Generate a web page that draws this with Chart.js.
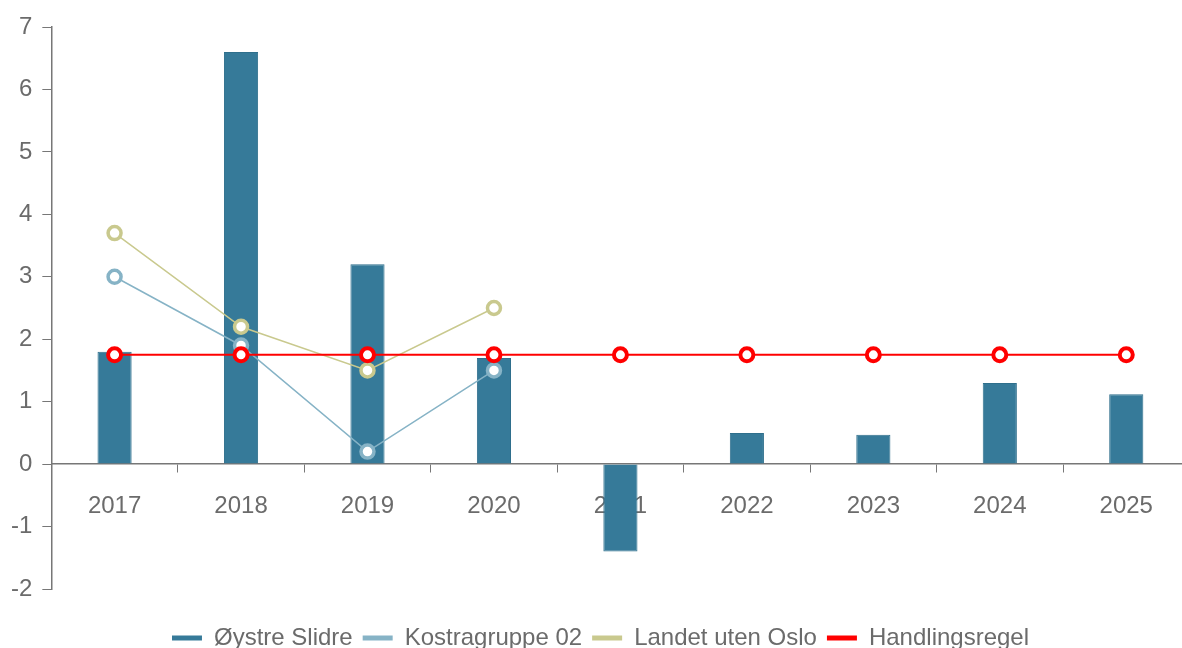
<!DOCTYPE html>
<html>
<head>
<meta charset="utf-8">
<script src="https://cdn.jsdelivr.net/npm/chart.js@4/dist/chart.umd.min.js"></script>
<style>
  html, body { margin: 0; padding: 0; background: #fff; overflow: hidden; }
  #clip { width: 1182px; height: 648px; overflow: hidden; }
  #wrap { width: 1200px; height: 648px; }
  canvas { display: block; }
</style>
</head>
<body>
<div id="clip"><div id="wrap"><canvas id="chart" width="1200" height="648"></canvas></div></div>
<script>
const years = ["2017","2018","2019","2020","2021","2022","2023","2024","2025"];
const oystreSlidre = [1.8, 6.6, 3.2, 1.7, -1.4, 0.5, 0.47, 1.3, 1.12];
const kostragruppe02 = [3.0, 1.9, 0.2, 1.5, null, null, null, null, null];
const landetUtenOslo = [3.7, 2.2, 1.5, 2.5, null, null, null, null, null];
const handlingsregel = [1.75, 1.75, 1.75, 1.75, 1.75, 1.75, 1.75, 1.75, 1.75];

const grey = "#6b6b6b";
Chart.defaults.font.family = "'Liberation Sans', Arial, sans-serif";
Chart.defaults.color = grey;

const ctx = document.getElementById("chart").getContext("2d");
const myChart = new Chart(ctx, {
    type: "bar",
    data: {
        labels: years,
        datasets: [{
            label: "Øystre Slidre",
            data: oystreSlidre,
            backgroundColor: "#367a99",
            borderColor: "#2f6f8c",
            borderWidth: 1,
            barPercentage: 0.27,
            categoryPercentage: 1,
            order: 4
        },
        {
            type: "line",
            label: "Kostragruppe 02",
            data: kostragruppe02,
            borderColor: "#86b3c6",
            backgroundColor: "#ffffff",
            borderWidth: 1.5,
            pointRadius: 6.5,
            pointBorderWidth: 3.5,
            order: 2
        },
        {
            type: "line",
            label: "Landet uten Oslo",
            data: landetUtenOslo,
            borderColor: "#c9c98e",
            backgroundColor: "#ffffff",
            borderWidth: 1.5,
            pointRadius: 6.5,
            pointBorderWidth: 3.5,
            order: 1
        },
        {
            type: "line",
            label: "Handlingsregel",
            data: handlingsregel,
            borderColor: "#ff0000",
            backgroundColor: "#ffffff",
            borderWidth: 2,
            pointRadius: 6.5,
            pointBorderWidth: 4,
            order: 0
        }]
    },
    options: {
        responsive: false,
        animation: false,
        // canvas is wider than the page: the original plot is cut at the right edge
        layout: { padding: { top: 27, left: 1, right: 0, bottom: -12 } },
        scales: {
            x: {
                position: { y: 0 },
                grid: { drawOnChartArea: false, tickLength: 8, color: "#777", offset: true },
                border: { color: "#777", width: 1.5 },
                ticks: { padding: 20, font: { size: 24 } }
            },
            // empty band keeping the legend away from the plot
            xGap: {
                type: "category",
                position: "bottom",
                grid: { display: false },
                border: { display: false },
                ticks: { display: false },
                afterFit: function (scale) { scale.height = 27; }
            },
            y: {
                min: -2,
                max: 7,
                ticks: { stepSize: 1, padding: 10, font: { size: 24 } },
                grid: { drawOnChartArea: false, tickLength: 9, color: "#777" },
                border: { color: "#777", width: 1.5 }
            }
        },
        plugins: {
            tooltip: { enabled: false },
            legend: {
                position: "bottom",
                labels: {
                    boxWidth: 30,
                    boxHeight: 5,
                    padding: 10,
                    font: { size: 24 },
                    sort: function (a, b) { return a.datasetIndex - b.datasetIndex; },
                    generateLabels: function (chart) {
                        const items = Chart.defaults.plugins.legend.labels.generateLabels(chart);
                        items.forEach(function (it) {
                            const ds = chart.data.datasets[it.datasetIndex];
                            it.fillStyle = ds.type === "line" ? ds.borderColor : ds.backgroundColor;
                            it.strokeStyle = it.fillStyle;
                            it.lineWidth = 0;
                        });
                        return items;
                    }
                }
            }
        }
    }
});
</script>
</body>
</html>
